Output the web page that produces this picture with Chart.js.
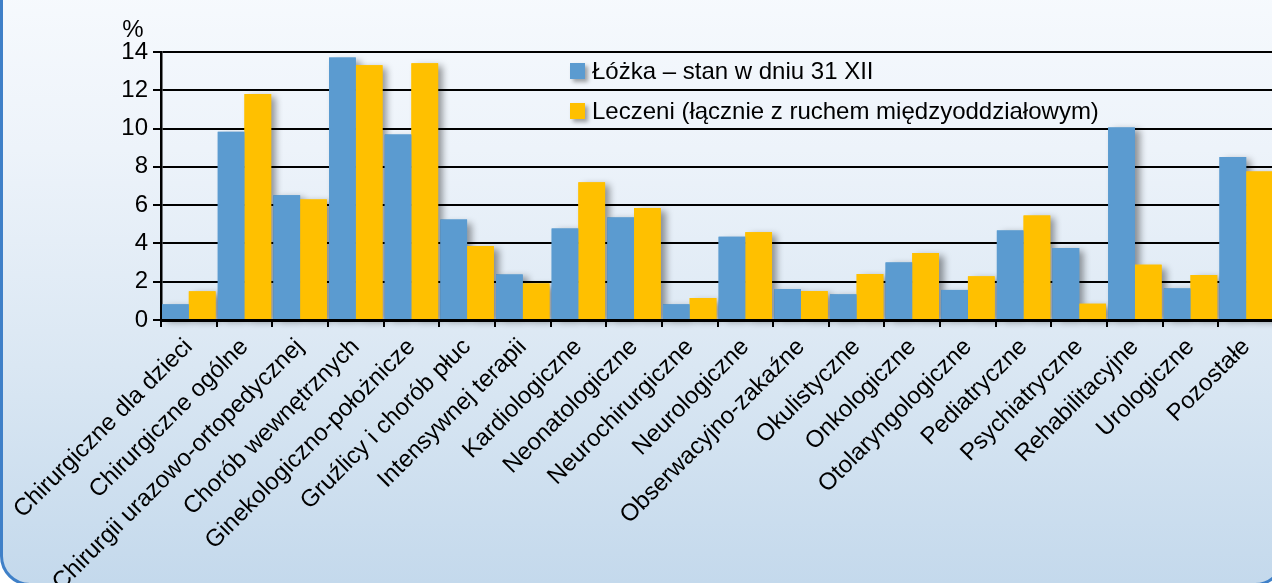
<!DOCTYPE html>
<html lang="pl">
<head>
<meta charset="utf-8">
<script src="https://cdn.jsdelivr.net/npm/chart.js@4.4.1/dist/chart.umd.min.js"></script>
<style>
    html, body { margin: 0; padding: 0; width: 1272px; height: 583px; overflow: hidden; background: #fff; }
    #panel {
        position: absolute; left: 0; top: -40px; width: 1285px; height: 626px;
        box-sizing: border-box; border: 3px solid #3f80c8; border-radius: 30px;
        background: linear-gradient(to bottom, #f8fbfe 0%, #edf3fa 30%, #dae7f3 65%, #c4d9ec 100%);
    }
    #wrap { position: absolute; left: 0; top: 0; width: 1290px; height: 583px; }
</style>
</head>
<body>
<div id="panel"></div>
<div id="wrap"><canvas id="bedsChart" width="1290" height="583"></canvas></div>
<script>
const categories = [
    "Chirurgiczne dla dzieci", "Chirurgiczne ogólne", "Chirurgii urazowo-ortopedycznej",
    "Chorób wewnętrznych", "Ginekologiczno-położnicze", "Gruźlicy i chorób płuc",
    "Intensywnej terapii", "Kardiologiczne", "Neonatologiczne", "Neurochirurgiczne",
    "Neurologiczne", "Obserwacyjno-zakaźne", "Okulistyczne", "Onkologiczne",
    "Otolaryngologiczne", "Pediatryczne", "Psychiatryczne", "Rehabilitacyjne",
    "Urologiczne", "Pozostałe"
];
const lozka = [0.82, 9.83, 6.52, 13.71, 9.69, 5.25, 2.38, 4.78, 5.36, 0.82,
               4.35, 1.62, 1.34, 3.01, 1.57, 4.68, 3.76, 10.06, 1.65, 8.51];
const leczeni = [1.5, 11.8, 6.3, 13.31, 13.41, 3.86, 1.91, 7.19, 5.85, 1.15,
                 4.59, 1.51, 2.4, 3.5, 2.28, 5.46, 0.85, 2.89, 2.35, 7.76];
const seriesNames = ["Łóżka – stan w dniu 31 XII", "Leczeni (łącznie z ruchem międzyoddziałowym)"];
const yMin = 0, yMax = 14, yStep = 2;

const FONT = '"Liberation Sans", Arial, sans-serif';

// cien pod slupkami - rysowany przed slupkami, wiec widac go tylko obok nich
const barShadow = {
    id: "barShadow",
    beforeDatasetsDraw(chart) {
        const ctx = chart.ctx;
        ctx.save();
        ctx.shadowColor = "rgba(0,0,0,0.4)";
        ctx.shadowBlur = 7;
        ctx.shadowOffsetX = 5;
        ctx.shadowOffsetY = 3;
        chart.data.datasets.forEach((ds, i) => {
            chart.getDatasetMeta(i).data.forEach(bar => {
                const p = bar.getProps(["x", "y", "base", "width"], true);
                ctx.fillStyle = ds.backgroundColor;
                ctx.fillRect(p.x - p.width / 2, p.y, p.width, p.base - p.y);
            });
        });
        ctx.restore();
    }
};

// legenda w srodku wykresu + jednostka "%"
const insideLegend = {
    id: "insideLegend",
    afterDraw(chart) {
        const ctx = chart.ctx;
        ctx.save();
        ctx.font = "24px " + FONT;
        ctx.textBaseline = "middle";
        chart.data.datasets.forEach((ds, i) => {
            const y = 71 + i * 40;
            ctx.save();
            ctx.shadowColor = "rgba(0,0,0,0.35)";
            ctx.shadowBlur = 4;
            ctx.shadowOffsetX = 3;
            ctx.shadowOffsetY = 3;
            ctx.fillStyle = ds.backgroundColor;
            ctx.fillRect(570, y - 8, 15, 16);
            ctx.restore();
            ctx.fillStyle = "#000";
            ctx.fillText(ds.label, 592, y + 1);
        });
        ctx.textAlign = "center";
        ctx.fillText("%", 133, 30);
        ctx.restore();
    }
};

new Chart(document.getElementById("bedsChart"), {
    type: "bar",
    data: {
        labels: categories,
        datasets: [
            { label: seriesNames[0], data: lozka, backgroundColor: "#5b9bd0", borderWidth: 0 },
            { label: seriesNames[1], data: leczeni, backgroundColor: "#ffc000", borderWidth: 0 }
        ]
    },
    options: {
        responsive: false,
        animation: false,
        devicePixelRatio: 1,
        layout: { padding: { top: 52, right: 16, left: 0, bottom: 0 } },
        datasets: { bar: { categoryPercentage: 0.96, barPercentage: 1 } },
        plugins: {
            legend: { display: false },
            title: { display: false },
            tooltip: { enabled: false }
        },
        scales: {
            x: {
                grid: { display: true, drawOnChartArea: false, offset: true, tickLength: 7, color: "#000", lineWidth: 2 },
                border: { display: true, color: "#000", width: 3 },
                ticks: {
                    color: "#000", font: { family: FONT, size: 24 },
                    minRotation: 45, maxRotation: 45, autoSkip: false, padding: 6
                },
                afterFit(scale) { scale.height = 263; }
            },
            y: {
                min: yMin, max: yMax,
                ticks: { stepSize: yStep, color: "#000", font: { family: FONT, size: 24 }, padding: 5 },
                grid: { color: "#000", lineWidth: 2, tickLength: 8 },
                border: { color: "#000", width: 2.5 },
                afterFit(scale) { scale.width = 161; }
            }
        }
    },
    plugins: [barShadow, insideLegend]
});
</script>
</body>
</html>
